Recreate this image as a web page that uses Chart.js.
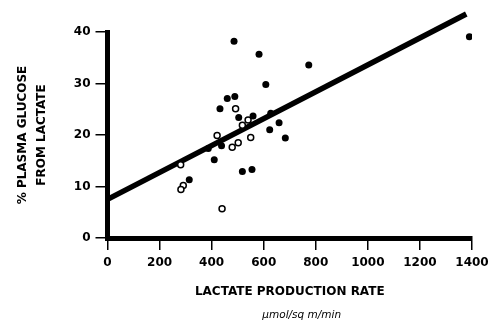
<!DOCTYPE html>
<html>
<head>
<meta charset="utf-8">
<script src="https://cdn.jsdelivr.net/npm/chart.js@4"></script>
<style>
  html, body { margin: 0; padding: 0; background: #fff; }
  canvas { display: block; }
</style>
</head>
<body>
<canvas id="chart" width="489" height="322"></canvas>
<script>
// filled circles
const filledX = [486, 582, 773, 608, 460, 489, 432, 504, 559, 627, 659, 623, 683, 438, 410, 518, 555, 314, 387, 1390];
const filledY = [38.2, 35.7, 33.6, 29.8, 27.1, 27.5, 25.1, 23.4, 23.7, 24.2, 22.4, 21.0, 19.4, 17.9, 15.2, 12.9, 13.3, 11.3, 17.4, 39.1];
// open circles
const openX = [492, 540, 518, 421, 550, 502, 479, 281, 291, 282, 440];
const openY = [25.1, 22.9, 21.9, 19.9, 19.5, 18.5, 17.6, 14.2, 10.2, 9.4, 5.7];
// regression line end points
const fitX = [0, 1378];
const fitY = [7.5, 43.5];

const xTicks = [0, 200, 400, 600, 800, 1000, 1200, 1400];
const yTicks = [0, 10, 20, 30, 40];
const unitLabel = 'μmol/sq m/min';

const toPoints = (xs, ys) => xs.map((x, i) => ({ x: x, y: ys[i] }));

const tickFont = { family: 'DejaVu Sans', weight: 'bold', size: 12 };
const black = '#000';

// italic unit line under the x axis title
const unitText = {
  id: 'unitText',
  afterDraw(chart) {
    const { ctx, chartArea } = chart;
    ctx.save();
    ctx.font = 'italic 10.5px "DejaVu Sans"';
    ctx.fillStyle = black;
    ctx.textAlign = 'center';
    ctx.textBaseline = 'middle';
    ctx.fillText(unitLabel, (chartArea.left + chartArea.right) / 2 + 12, 315);
    ctx.restore();
  }
};

const ctx = document.getElementById('chart').getContext('2d');

new Chart(ctx, {
  type: 'scatter',
  data: {
    datasets: [
      {
        data: toPoints(filledX, filledY),
        pointRadius: 3.5,
        pointBackgroundColor: black,
        pointBorderWidth: 0
      },
      {
        data: toPoints(openX, openY),
        pointRadius: 3,
        pointBackgroundColor: '#fff',
        pointBorderColor: black,
        pointBorderWidth: 1.5
      },
      {
        data: toPoints(fitX, fitY),
        showLine: true,
        borderColor: black,
        borderWidth: 5.5,
        pointRadius: 0,
        clip: false
      }
    ]
  },
  plugins: [unitText],
  options: {
    responsive: false,
    animation: false,
    events: [],
    layout: { padding: { top: 32, right: 17, left: 0, bottom: 0 } },
    plugins: {
      legend: { display: false },
      tooltip: { enabled: false }
    },
    scales: {
      x: {
        type: 'linear',
        min: 0,
        max: 1400,
        afterBuildTicks: s => { s.ticks = xTicks.map(v => ({ value: v })); },
        afterFit: s => { s.height = 84; s.paddingLeft = 0; s.paddingRight = 0; },
        border: { display: true, color: black, width: 5 },
        grid: { drawOnChartArea: false, drawTicks: true, tickLength: 12, tickColor: black, lineWidth: 1.5 },
        ticks: { color: black, font: tickFont, padding: 6, maxRotation: 0, autoSkip: false, callback: v => String(v) },
        title: {
          display: true,
          text: 'LACTATE PRODUCTION RATE',
          color: black,
          font: { family: 'DejaVu Sans', weight: 'bold', size: 12, lineHeight: 1.2 },
          padding: { top: 0, bottom: 22.8 }
        }
      },
      y: {
        type: 'linear',
        min: 0,
        max: 40,
        afterBuildTicks: s => { s.ticks = yTicks.map(v => ({ value: v })); },
        afterFit: s => { s.width = 107.5; s.paddingTop = 0; s.paddingBottom = 0; },
        border: { display: true, color: black, width: 5 },
        grid: { drawOnChartArea: false, drawTicks: true, tickLength: 12, tickColor: black, lineWidth: 1.5 },
        ticks: { color: black, font: tickFont, padding: 5, callback: v => String(v) },
        title: {
          display: true,
          text: ['% PLASMA GLUCOSE', 'FROM LACTATE'],
          color: black,
          font: { family: 'DejaVu Sans', weight: 'bold', size: 12, lineHeight: 1.58 },
          padding: { top: 13.5, bottom: 0 }
        }
      }
    }
  }
});
</script>
</body>
</html>
